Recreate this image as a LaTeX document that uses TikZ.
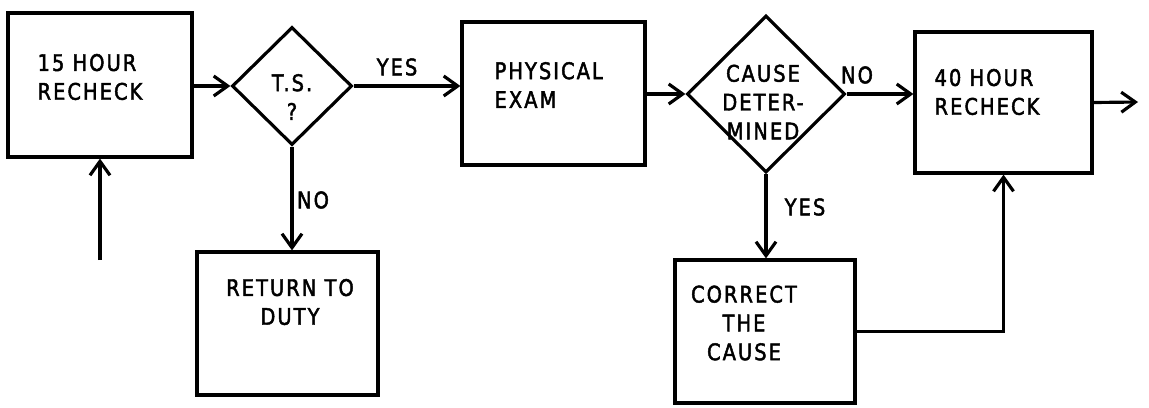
\documentclass[tikz,border=0pt]{standalone}
\usepackage{fontspec}
\setmainfont{DejaVu Sans}[FakeStretch=0.85, LetterSpace=9, FakeBold=2]
\usetikzlibrary{arrows.meta,shapes.geometric}

\begin{document}
\begin{tikzpicture}[
  x=0.2mm, y=-0.2mm,
  font=\fontsize{13}{16.4}\selectfont,
  line width=1.8pt,
  >={Straight Barb[length=2.8mm, width=4mm]},
  box/.style n args={2}{draw, minimum width=#1*0.2mm, minimum height=#2*0.2mm,
                        inner sep=0pt},
  dec/.style n args={2}{draw, diamond, minimum width=#1*0.2mm,
                        minimum height=#2*0.2mm, inner sep=0pt},
  txt/.style={align=center, inner sep=0pt},
  lbl/.style={inner sep=0pt},
]
\useasboundingbox (0,0) rectangle (1149,407);

% top row
\node[box={184}{144}] (b15) at (100,85) {};
\node[txt, align=left] (t15) at (90,77) {15 HOUR\\RECHECK};
\node[dec={120}{118}] (dts) at (292,86) {};
\node[txt] (tts) at (292,97) {T.S.\\?};
\node[box={183}{143}] (bphys) at (553.5,93.5) {};
\node[txt, anchor=west, align=left] (tphys) at (493,85) {PHYSICAL\\EXAM};
\node[dec={158}{157}] (dcause) at (766,94) {};
\node[txt] (tcause) at (763,102) {CAUSE\\DETER-\\MINED};
\node[box={177}{141}] (b40) at (1003.5,102.5) {};
\node[txt, anchor=west, align=left] (t40) at (933,92) {40 HOUR\\RECHECK};

% bottom row
\node[box={181}{143}] (bret) at (287.5,323.5) {};
\node[txt] (tret) at (290,302) {RETURN TO\\DUTY};
\node[box={180}{143}] (bfix) at (765,331.5) {};
\node[txt] (tfix) at (744,323) {CORRECT\\THE\\CAUSE};

% branch labels
\node[lbl] (lyes1) at (397,67) {YES};
\node[lbl] (lno1) at (313,200) {NO};
\node[lbl] (lno2) at (857,75) {NO};
\node[lbl] (lyes2) at (805,207) {YES};

% free ends
\coordinate (cin) at (100,260);
\coordinate (cout) at (1138,102);

% connectors
\draw[->] (cin) -- (b15.south);
\draw[->] (b15.east |- dts.west) -- (dts.west);
\draw[->] (dts.east) -- (dts.east -| bphys.west);
\draw[->] (dts.south) -- (dts.south |- bret.north);
\draw[->] (bphys.east |- dcause.west) -- (dcause.west);
\draw[->] (dcause.east) -- (dcause.east -| b40.west);
\draw[->] (dcause.south) -- (dcause.south |- bfix.north);
\draw[->] (b40.east) -- (cout);
\draw[->] (bfix.east) -| (b40.south);
\end{tikzpicture}
\end{document}
